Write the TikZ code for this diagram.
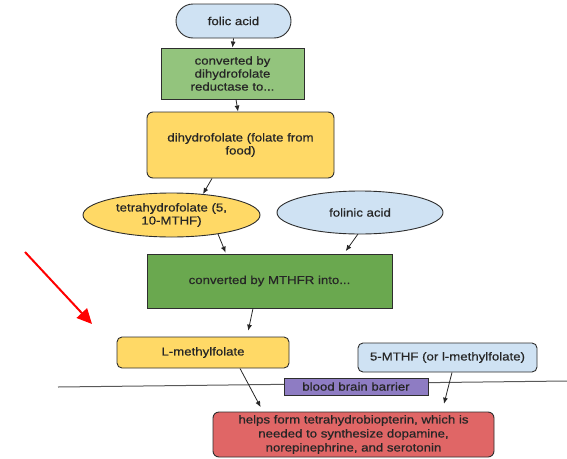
\documentclass[tikz,border=0pt]{standalone}
\usepackage{fontspec}
\setmainfont{Liberation Sans}[FakeStretch=1.15,FakeBold=0.6]
\usetikzlibrary{shapes.geometric,arrows.meta,calc}
\definecolor{lblue}{HTML}{CFE2F3}
\definecolor{lgreen}{HTML}{93C47D}
\definecolor{dgreen}{HTML}{6AA84F}
\definecolor{yel}{HTML}{FFD966}
\definecolor{purp}{HTML}{8E7CC3}
\definecolor{redb}{HTML}{E06666}
\definecolor{bord}{HTML}{2E2E2E}
\tikzset{
  base/.style={draw=bord, line width=0.9pt, text=black!85, align=center, inner sep=2pt,
    font=\fontsize{11.5}{13}\selectfont},
  rbox/.style={base, rectangle, rounded corners=6pt},
  sbox/.style={base, rectangle},
  ell/.style={base, ellipse, inner sep=0pt},
  conn/.style={draw=black!85, line width=0.8pt, -{Latex[length=6pt,width=5pt]}},
}
\begin{document}
\begin{tikzpicture}[x=1pt,y=-1pt]
\useasboundingbox (0,0) rectangle (567,458);
% barrier line
\coordinate (lineL) at (58,387);
\coordinate (lineR) at (567,381);
\draw[draw=black!65, line width=1pt] (lineL) -- (lineR);

\node[base, rectangle, rounded corners=17pt, fill=lblue, minimum width=115pt, minimum height=34pt] (folic) at (233.5,21) {folic acid};
\node[sbox, fill=lgreen, minimum width=143pt, minimum height=51pt] (g1) at (232.5,73.5) {converted by\\dihydrofolate\\reductase to...};
\node[rbox, fill=yel, minimum width=187pt, minimum height=66pt] (dh) at (240.5,145) {dihydrofolate (folate from\\food)};
\node[ell, fill=yel, minimum width=177pt, minimum height=44pt] (tetra) at (171.5,215) {tetrahydrofolate (5,\\10-MTHF)};
\node[ell, fill=lblue, minimum width=166pt, minimum height=43pt] (folinic) at (360,212.5) {folinic acid};
\node[sbox, fill=dgreen, minimum width=245pt, minimum height=54pt] (mthfr) at (269.5,281) {converted by MTHFR into...};
\node[rbox, rounded corners=5pt, fill=yel, minimum width=172pt, minimum height=31pt] (lm) at (203,352.5) {L-methylfolate};
\node[rbox, rounded corners=5pt, fill=lblue, minimum width=179pt, minimum height=29pt] (mthf5) at (447.5,357.5) {5-MTHF (or l-methylfolate)};
\node[sbox, fill=purp, minimum width=144pt, minimum height=17pt, inner sep=0pt] (bbb) at (356,386.5) {blood brain barrier};
\node[rbox, fill=redb, minimum width=281pt, minimum height=45pt, inner sep=1pt, font=\fontsize{11.5}{14}\selectfont] (red) at (353.5,434.5) {helps form tetrahydrobiopterin, which is\\needed to synthesize dopamine,\\norepinephrine, and serotonin};

% connectors
\draw[conn] (folic.south) -- (g1.north);
\draw[conn] ($(g1.south)+(3.5,0)$) -- ($(dh.north)+(-2.5,0)$);
\draw[conn] ($(dh.south)+(-28.5,0)$) -- ($(tetra.center)+(31.5,-21)$);
\draw[conn, shorten >=1pt] ($(tetra.center)+(46.5,19)$) -- ($(mthfr.north)+(-43.5,0)$);
\draw[conn, shorten >=3pt] ($(folinic.center)+(-2,21.5)$) -- ($(mthfr.north)+(74.5,0)$);
\draw[conn, shorten >=6pt] ($(mthfr.south)+(-16.5,0)$) -- ($(lm.north)+(44,0)$);
\draw[conn, shorten >=5pt] ($(lm.south)+(37,0)$) -- ($(red.north)+(-90.5,0)$);
\draw[conn, shorten >=8pt] ($(mthf5.south)+(4.5,0)$) -- ($(red.north)+(88.5,0)$);

% red pointer arrow
\coordinate (ra) at (25,252);
\coordinate (rb) at (92,324);
\draw[red, line width=2pt, -{Triangle[length=15pt,width=14pt]}] (ra) -- (rb);
\end{tikzpicture}
\end{document}
